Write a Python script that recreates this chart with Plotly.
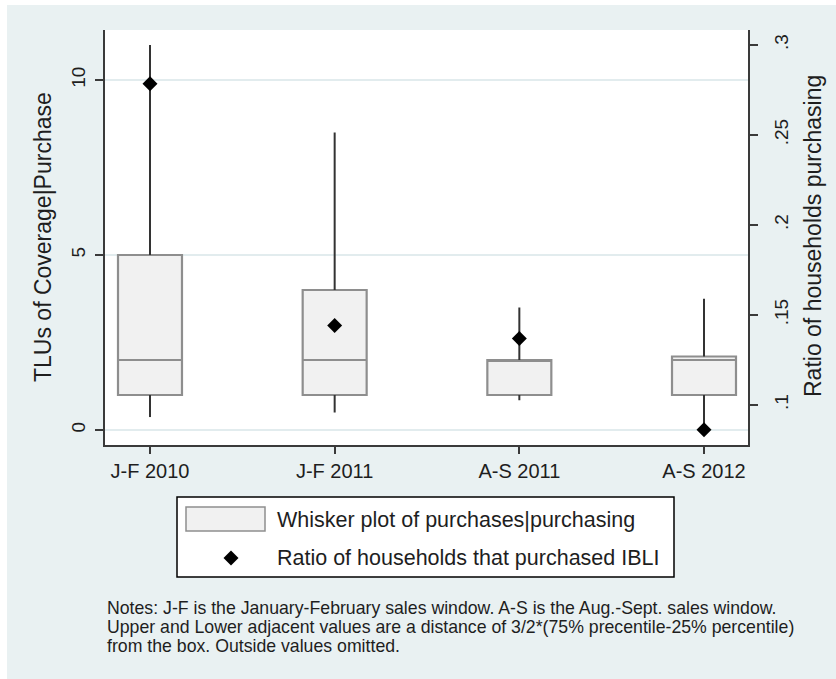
import plotly.graph_objects as go

# ---- data -------------------------------------------------------------
windows = ["J-F 2010", "J-F 2011", "A-S 2011", "A-S 2012"]

# TLUs of coverage conditional on purchase (box summary per sales window)
lower_adj = [0.37, 0.50, 0.85, 0.05]
q1 = [1.0, 1.0, 1.0, 1.0]
median = [2.0, 2.0, 2.0, 2.0]
q3 = [5.0, 4.0, 2.0, 2.1]
upper_adj = [11.0, 8.5, 3.5, 3.75]

# share of households that bought IBLI in each window
ratio_purchased = [0.2785, 0.1442, 0.137, 0.0862]

left_ticks = [0, 5, 10]
right_ticks = [0.10, 0.15, 0.20, 0.25, 0.30]
right_ticktext = [".1", ".15", ".2", ".25", ".3"]

notes = [
    "Notes: J-F is the January-February sales window. A-S is the Aug.-Sept. sales window.",
    "Upper and Lower adjacent values are a distance of 3/2*(75% precentile-25% percentile)",
    "from the box. Outside values omitted.",
]

# ---- page geometry (pixels) -------------------------------------------
W, H = 836, 679
L, R, T, B = 105, 748, 30, 445
PW, PH = R - L, B - T

FONT = "Liberation Sans, Arial, sans-serif"
BG = "#e9f1f2"
AXIS = "#3a3a3a"
TXT = "#1e1e1e"


def px(x):
    return (x - L) / PW


def py(y):
    return (B - y) / PH


pos = list(range(len(windows)))
box_w = 0.3465

fig = go.Figure()

# whiskers (dark) from the box edges out to the adjacent values
wx, wy = [], []
for i in pos:
    wx += [i, i, None, i, i, None]
    wy += [q3[i], upper_adj[i], None, lower_adj[i], q1[i], None]
fig.add_trace(go.Scatter(x=wx, y=wy, mode="lines",
                         line=dict(color="#333333", width=2),
                         hoverinfo="skip", showlegend=False))

# boxes: interquartile range with median
fig.add_trace(go.Box(
    x=pos, q1=q1, median=median, q3=q3,
    lowerfence=q1, upperfence=q3,
    width=box_w, whiskerwidth=0,
    fillcolor="#f1f1f1",
    line=dict(color="#8e8e8e", width=2.2),
    boxpoints=False, showlegend=False, name="Whisker plot of purchases|purchasing",
))

# household purchase ratio on the right-hand axis
fig.add_trace(go.Scatter(
    x=pos, y=ratio_purchased, yaxis="y2", mode="markers",
    marker=dict(symbol="diamond", size=11.5, color="black"),
    showlegend=False, name="Ratio of households that purchased IBLI",
))

x_lo = -(150 - L) / 184.7
x_hi = 3 + (R - 704) / 184.7
y_per_px = 1 / 35.0
y_lo = 0 - (B - 430) * y_per_px
y_hi = 0 + (430 - T) * y_per_px
r_per_px = 0.2 / 360.0
r_lo = 0.1 - (B - 405) * r_per_px
r_hi = 0.1 + (405 - T) * r_per_px

fig.update_layout(
    width=W, height=H,
    margin=dict(l=L, r=W - R, t=T, b=H - B, pad=0),
    paper_bgcolor=BG, plot_bgcolor="white",
    font=dict(family=FONT, color=TXT),
    showlegend=False,
    xaxis=dict(
        range=[x_lo, x_hi], tickmode="array", tickvals=pos, ticktext=windows,
        showline=True, linecolor=AXIS, linewidth=2, mirror=False,
        ticks="outside", ticklen=7, tickwidth=2, tickcolor=AXIS,
        tickfont=dict(size=20, family=FONT, color=TXT),
        showgrid=False, zeroline=False, fixedrange=True,
    ),
    yaxis=dict(
        range=[y_lo, y_hi], tickmode="array", tickvals=left_ticks,
        ticktext=[str(v) for v in left_ticks], tickangle=-90,
        showline=True, linecolor=AXIS, linewidth=2,
        ticks="outside", ticklen=8, tickwidth=2, tickcolor=AXIS,
        ticklabelstandoff=2,
        tickfont=dict(size=19, family=FONT, color=TXT),
        showgrid=True, gridcolor="#e2ecee", gridwidth=1.5,
        zeroline=False, fixedrange=True,
    ),
    yaxis2=dict(
        range=[r_lo, r_hi], overlaying="y", side="right",
        tickmode="array", tickvals=right_ticks, ticktext=right_ticktext,
        tickangle=-90,
        showline=True, linecolor=AXIS, linewidth=2,
        ticks="outside", ticklen=8, tickwidth=2, tickcolor=AXIS,
        ticklabelstandoff=7,
        tickfont=dict(size=19, family=FONT, color=TXT),
        showgrid=False, zeroline=False, fixedrange=True,
    ),
)

shapes = [
    # thin white page edge on the left and top
    dict(type="rect", xref="paper", yref="paper", x0=px(0), x1=px(7),
         y0=py(H), y1=py(0), fillcolor="white", line=dict(width=0), layer="above"),
    dict(type="rect", xref="paper", yref="paper", x0=px(0), x1=px(W),
         y0=py(5), y1=py(0), fillcolor="white", line=dict(width=0), layer="above"),
    # legend frame
    dict(type="rect", xref="paper", yref="paper", x0=px(177), x1=px(674),
         y0=py(577), y1=py(497), fillcolor="white",
         line=dict(color="black", width=1.5), layer="above"),
    # legend key: box
    dict(type="rect", xref="paper", yref="paper", x0=px(186), x1=px(265),
         y0=py(531), y1=py(507), fillcolor="#f1f1f1",
         line=dict(color="#8e8e8e", width=1.5), layer="above"),
]
# legend key: diamond
cx, cy, hw = 231, 558, 7.5
shapes.append(dict(
    type="path", xref="paper", yref="paper",
    path=(f"M {px(cx - hw)},{py(cy)} L {px(cx)},{py(cy - hw)} "
          f"L {px(cx + hw)},{py(cy)} L {px(cx)},{py(cy + hw)} Z"),
    fillcolor="black", line=dict(color="black", width=0), layer="above",
))

annotations = [
    dict(text="TLUs of Coverage|Purchase", x=px(43), y=py(237), xref="paper",
         yref="paper", textangle=-90, showarrow=False,
         font=dict(size=23, family=FONT, color=TXT), xanchor="center", yanchor="middle"),
    dict(text="Ratio of households purchasing", x=px(813), y=py(236), xref="paper",
         yref="paper", textangle=-90, showarrow=False,
         font=dict(size=23, family=FONT, color=TXT), xanchor="center", yanchor="middle"),
    dict(text="Whisker plot of purchases|purchasing", x=px(275), y=py(520),
         xref="paper", yref="paper", showarrow=False, xanchor="left", yanchor="middle",
         font=dict(size=21.5, family=FONT, color=TXT)),
    dict(text="Ratio of households that purchased IBLI", x=px(275), y=py(558),
         xref="paper", yref="paper", showarrow=False, xanchor="left", yanchor="middle",
         font=dict(size=21.5, family=FONT, color=TXT)),
]
for k, line in enumerate(notes):
    annotations.append(dict(
        text=line, x=px(105), y=py(608 + 19 * k), xref="paper", yref="paper",
        showarrow=False, xanchor="left", yanchor="middle",
        font=dict(size=17.7, family=FONT, color=TXT),
    ))

fig.update_layout(shapes=shapes, annotations=annotations)

fig.write_html("out.html", config={"displayModeBar": False})
